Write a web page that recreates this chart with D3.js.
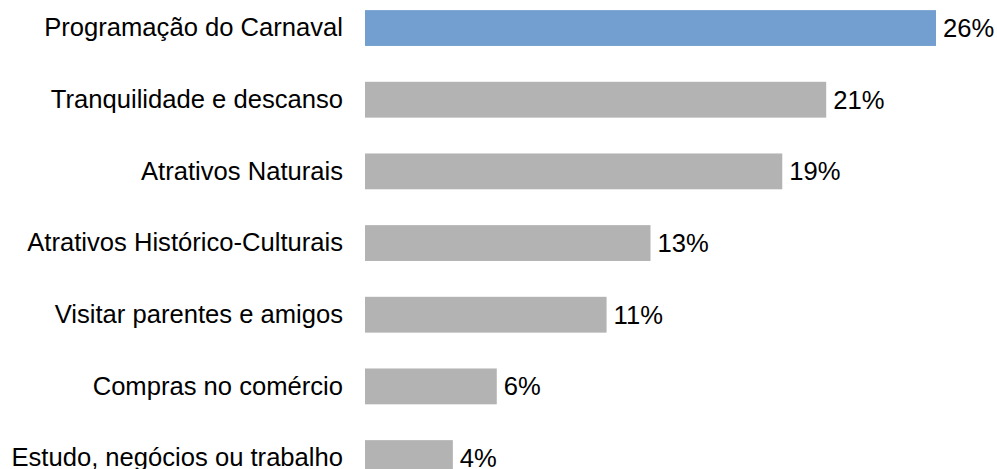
<!DOCTYPE html>
<html>
<head>
<meta charset="utf-8">
<script src="https://cdn.jsdelivr.net/npm/d3@7"></script>
<style>
  html, body { margin: 0; padding: 0; background: #fff; }
  svg { display: block; }
  text { font-family: "Liberation Sans", Arial, sans-serif; fill: #000; }
</style>
</head>
<body>
<svg id="chart" width="997" height="469"></svg>
<script>
// Motivos da viagem (percentual de respostas)
const categories = [
  "Programação do Carnaval",
  "Tranquilidade e descanso",
  "Atrativos Naturais",
  "Atrativos Histórico-Culturais",
  "Visitar parentes e amigos",
  "Compras no comércio",
  "Estudo, negócios ou trabalho"
];
const values = [26, 21, 19, 13, 11, 6, 4];
const highlight = "Programação do Carnaval";

const svg = d3.select("#chart");
const x0 = 365;
const fontSize = "25.6px";

const x = d3.scaleLinear().domain([0, 26]).range([x0, 936]);
const y = d3.scaleBand()
  .domain(categories)
  .range([-7.8, 493.9])
  .paddingInner(0.5)
  .paddingOuter(0.25);

const rows = categories.map((c, i) => ({ cat: c, val: values[i] }));

svg.selectAll("rect.bar")
  .data(rows)
  .join("rect")
  .attr("class", "bar")
  .attr("x", x(0))
  .attr("y", d => y(d.cat))
  .attr("width", d => x(d.val) - x(0))
  .attr("height", y.bandwidth())
  .attr("fill", d => d.cat === highlight ? "#729fcf" : "#b3b3b3");

// category labels to the left of each bar
const axis = d3.axisLeft(y).tickSize(0).tickPadding(22);
const g = svg.append("g").attr("transform", `translate(${x0},0)`).call(axis);
g.select(".domain").remove();
g.selectAll("text")
  .style("font-family", '"Liberation Sans", Arial, sans-serif')
  .style("font-size", fontSize)
  .attr("fill", "#000");

// value labels
svg.selectAll("text.val")
  .data(rows)
  .join("text")
  .attr("class", "val")
  .attr("x", d => x(d.val) + 7)
  .attr("y", d => y(d.cat) + y.bandwidth() / 2)
  .attr("dy", "0.35em")
  .style("font-size", fontSize)
  .text(d => d.val + "%");
</script>
</body>
</html>
